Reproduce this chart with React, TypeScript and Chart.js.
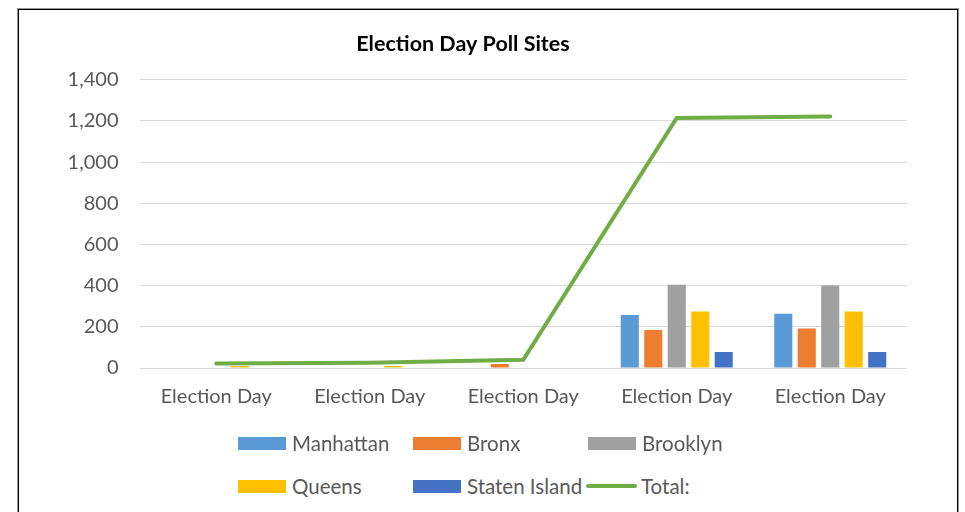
import React, { useEffect, useRef } from "react";
import { Chart, registerables } from "chart.js";

Chart.register(...registerables);

const categories = ["Election Day", "Election Day", "Election Day", "Election Day", "Election Day"];
const manhattan = [0, 0, 0, 258, 263];
const bronx = [0, 0, 20, 185, 192];
const brooklyn = [0, 0, 0, 405, 401];
const queens = [10, 10, 0, 275, 275];
const statenIsland = [0, 0, 0, 78, 78];
const total = [22, 26, 40, 1215, 1222];
const yTicks = [0, 200, 400, 600, 800, 1000, 1200, 1400];

const colors = {
  manhattan: "#5B9BD5",
  bronx: "#ED7D31",
  brooklyn: "#A0A0A0",
  queens: "#FFC000",
  statenIsland: "#4472C4",
  total: "#70AD47",
};

const FONT = "Lato, 'Open Sans', sans-serif";
const TEXT = "#595959";

const legendItems = [
  { label: "Manhattan", color: colors.manhattan, type: "box" },
  { label: "Bronx", color: colors.bronx, type: "box" },
  { label: "Brooklyn", color: colors.brooklyn, type: "box" },
  { label: "Queens", color: colors.queens, type: "box" },
  { label: "Staten Island", color: colors.statenIsland, type: "box" },
  { label: "Total:", color: colors.total, type: "line" },
];

export default function App() {
  const ref = useRef<HTMLCanvasElement | null>(null);

  useEffect(() => {
    if (!ref.current) return;
    const barCommon = {
      type: "bar" as const,
      order: 1,
      categoryPercentage: 0.765,
      barPercentage: 0.77,
    };
    const chart = new Chart(ref.current, {
      type: "bar",
      data: {
        labels: categories,
        datasets: [
          {
            type: "line",
            label: "Total:",
            data: total,
            borderColor: colors.total,
            backgroundColor: colors.total,
            borderWidth: 4,
            pointRadius: 0,
            tension: 0,
            borderCapStyle: "round",
            borderJoinStyle: "miter",
            order: 0,
          } as any,
          { ...barCommon, label: "Manhattan", data: manhattan, backgroundColor: colors.manhattan },
          { ...barCommon, label: "Bronx", data: bronx, backgroundColor: colors.bronx },
          { ...barCommon, label: "Brooklyn", data: brooklyn, backgroundColor: colors.brooklyn },
          { ...barCommon, label: "Queens", data: queens, backgroundColor: colors.queens },
          { ...barCommon, label: "Staten Island", data: statenIsland, backgroundColor: colors.statenIsland },
        ],
      },
      options: {
        animation: false,
        responsive: false,
        maintainAspectRatio: false,
        layout: { padding: { left: 0, right: 50, top: 0, bottom: 4 } },
        plugins: {
          legend: { display: false },
          tooltip: { enabled: false },
          title: {
            display: true,
            text: "Election Day Poll Sites",
            color: "#000",
            font: { family: FONT, size: 21.5, weight: "bold", lineHeight: 1.2 },
            padding: { top: 21, bottom: 23 },
          },
        },
        scales: {
          x: {
            grid: { display: false, drawTicks: false },
            border: { display: false },
            ticks: {
              color: TEXT,
              font: { family: FONT, size: 20, lineHeight: 1.2 },
              padding: 17,
              maxRotation: 0,
              autoSkip: false,
            },
          },
          y: {
            min: 0,
            max: 1400,
            afterBuildTicks: (scale: any) => {
              scale.ticks = yTicks.map((v) => ({ value: v }));
            },
            afterFit: (scale: any) => {
              scale.width = 120.5;
            },
            grid: { color: "#D9D9D9", lineWidth: 1, drawTicks: false },
            border: { display: false },
            ticks: {
              color: TEXT,
              font: { family: FONT, size: 20, lineHeight: 1.2 },
              padding: 21,
              callback: (v: any) => Number(v).toLocaleString("en-US"),
            },
          },
        },
      },
    });
    return () => chart.destroy();
  }, []);

  return (
    <div style={{ position: "fixed", left: 0, top: 0, width: 965, height: 512, overflow: "hidden", background: "#fff" }}>
      <div
        style={{
          position: "absolute",
          left: 18,
          top: 9,
          width: 940,
          height: 540,
          boxSizing: "border-box",
          border: "1px solid #000",
          boxShadow: "0 0 0 1px #9a9a9a",
        }}
      />
      <canvas ref={ref} width={938} height={420} style={{ position: "absolute", left: 19, top: 10, width: 938, height: 420 }} />
      {legendItems.map((it, i) => {
        const col = i % 3;
        const row = Math.floor(i / 3);
        const left = 238 + col * 175;
        const cy = 443 + row * 43;
        return (
          <div
            key={it.label}
            style={{
              position: "absolute",
              left: it.type === "line" ? left - 2 : left,
              top: cy - 14,
              height: 28,
              display: "flex",
              alignItems: "center",
              fontFamily: FONT,
              fontSize: 20.5,
              color: TEXT,
              whiteSpace: "nowrap",
            }}
          >
            {it.type === "box" ? (
              <span style={{ display: "inline-block", width: 48, height: 13, background: it.color, marginRight: 6 }} />
            ) : (
              <span style={{ display: "inline-block", width: 51, height: 4, borderRadius: 2, background: it.color, marginRight: 4 }} />
            )}
            <span>{it.label}</span>
          </div>
        );
      })}
    </div>
  );
}
